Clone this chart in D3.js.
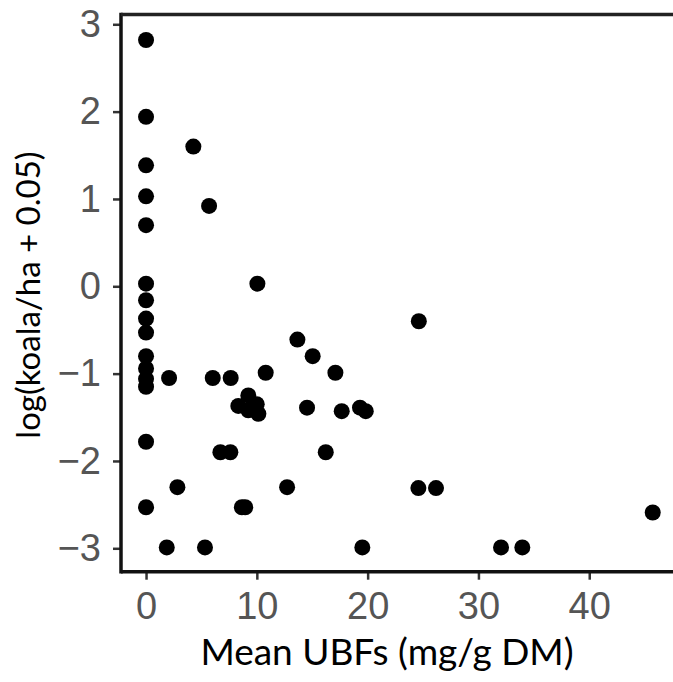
<!DOCTYPE html>
<html>
<head>
<meta charset="utf-8">
<script src="https://cdn.jsdelivr.net/npm/d3@7"></script>
<style>
  html, body { margin: 0; padding: 0; background: #fff; }
  svg { display: block; }
</style>
</head>
<body>
<svg id="chart" width="673" height="682"></svg>
<script>
// Data
const ubf = [
  0, 0, 0, 0, 0, 0, 0, 0, 0, 0, 0, 0, 0, 0, 0,
  4.27, 5.69, 10.05, 13.66, 15.04, 17.09,
  2.08, 6.02, 7.64, 10.80,
  8.33, 9.23, 9.99, 10.14, 9.23,
  14.53, 17.66, 19.31, 19.83, 24.62,
  6.71, 7.61, 16.22,
  2.83, 12.73, 24.58, 26.17,
  8.65, 8.95, 45.73,
  1.87, 5.32, 19.52, 32.04, 33.96
];
const logKoala = [
  2.82, 1.94, 1.385, 1.03, 0.70, 0.03, -0.16, -0.37, -0.53, -0.80, -0.94, -1.06, -1.15, -1.78, -2.53,
  1.60, 0.92, 0.03, -0.61, -0.80, -0.99,
  -1.05, -1.05, -1.05, -0.99,
  -1.37, -1.25, -1.35, -1.46, -1.42,
  -1.39, -1.43, -1.39, -1.43, -0.40,
  -1.90, -1.90, -1.90,
  -2.30, -2.30, -2.31, -2.31,
  -2.53, -2.53, -2.59,
  -2.99, -2.99, -2.99, -2.99, -2.99
];
const xTicks = [0, 10, 20, 30, 40];
const yTicks = [-3, -2, -1, 0, 1, 2, 3];
const xTitle = "Mean UBFs (mg/g DM)";
const yTitle = "log(koala/ha + 0.05)";

const points = ubf.map((v, i) => ({ x: v, y: logKoala[i] }));

const svg = d3.select("#chart");
const pLeft = 121, pRight = 673, pTop = 14.5, pBottom = 571.7;

const x = d3.scaleLinear().domain([-2.26, 47.56]).range([pLeft, pRight]);
const y = d3.scaleLinear().domain([-3.268, 3.112]).range([pBottom, pTop]);

const tickFont = "'Liberation Sans', Arial, Helvetica, sans-serif";
const titleFont = "Lato, 'Open Sans', sans-serif";

// X axis
const gx = svg.append("g")
  .attr("transform", `translate(0,${pBottom})`)
  .call(d3.axisBottom(x).tickValues(xTicks).tickFormat(d3.format("d")).tickSizeInner(8).tickSizeOuter(0).tickPadding(12));
gx.select(".domain").remove();
gx.selectAll(".tick line").attr("stroke", "#333").attr("stroke-width", 2.5);
gx.selectAll(".tick text").attr("fill", "#555").style("font-family", tickFont).style("font-size", "38px");

// Y axis
const gy = svg.append("g")
  .attr("transform", `translate(${pLeft},0)`)
  .call(d3.axisLeft(y).tickValues(yTicks).tickFormat(d3.format("d")).tickSizeInner(8).tickSizeOuter(0).tickPadding(12));
gy.select(".domain").remove();
gy.selectAll(".tick line").attr("stroke", "#333").attr("stroke-width", 2.5);
gy.selectAll(".tick text").attr("fill", "#555").style("font-family", tickFont).style("font-size", "38px");

// Axis lines: left, bottom, top
svg.append("line").attr("x1", pLeft).attr("x2", pLeft).attr("y1", pTop - 1.75).attr("y2", pBottom + 1.75)
  .attr("stroke", "#111").attr("stroke-width", 3.5);
svg.append("line").attr("x1", pLeft).attr("x2", pRight + 5).attr("y1", pBottom).attr("y2", pBottom)
  .attr("stroke", "#111").attr("stroke-width", 3.5);
svg.append("line").attr("x1", pLeft).attr("x2", pRight + 5).attr("y1", pTop).attr("y2", pTop)
  .attr("stroke", "#222").attr("stroke-width", 3.5);

// Points
svg.append("g").selectAll("circle").data(points).join("circle")
  .attr("cx", d => x(d.x))
  .attr("cy", d => y(d.y))
  .attr("r", 8)
  .attr("fill", "#000");

// Titles
svg.append("text")
  .attr("x", 387).attr("y", 665)
  .attr("text-anchor", "middle")
  .style("font-family", titleFont).style("font-size", "37px").attr("fill", "#000")
  .text(xTitle);

svg.append("text")
  .attr("transform", `translate(40,295) rotate(-90)`)
  .attr("text-anchor", "middle")
  .style("font-family", titleFont).style("font-size", "33px").attr("fill", "#000")
  .text(yTitle);
</script>
</body>
</html>
